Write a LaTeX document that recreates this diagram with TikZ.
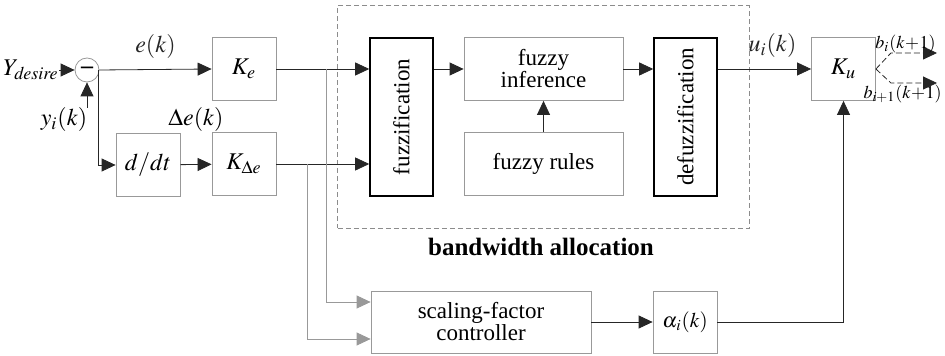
\documentclass[tikz,border=0pt]{standalone}
\usepackage{mathptmx}
\usepackage[no-math]{fontspec}
\setmainfont{Liberation Serif}
\usetikzlibrary{calc,positioning,fit,arrows.meta}
\tikzset{blk/.style={draw=gray!80,minimum width=32pt,minimum height=31.5pt,inner sep=1pt,text=black,font=\fontsize{12}{14}\selectfont},
wide/.style={blk,minimum width=79.5pt,align=center,font=\rmfamily\fontsize{11.5}{13}\selectfont},
fz/.style={draw=black,thick,minimum width=31.5pt,minimum height=79pt,inner sep=0pt,font=\rmfamily\fontsize{11.5}{13}\selectfont},
arr/.style={-{Triangle[length=7pt,width=6.5pt]},black!85},
ln/.style={gray!80}}

\begin{document}
\begin{tikzpicture}[x=0.5pt,y=-0.5pt,font=\rmfamily\fontsize{12}{14}\selectfont]
			\useasboundingbox (0,0) rectangle (945,356);
			\node[circle,draw=gray!80,minimum size=12pt,inner sep=0pt] (sum) at (87,70) {\bfseries --};
			\node[anchor=east,inner sep=0pt] (yd) at (59,70) {$Y_{\mathit{desire}}$};
			\node (yi) at (64,120) {$y_i(k)$};
			\coordinate (yin) at (87,108);
			\coordinate (b1) at (98,70);

			\node[blk] (ke) at (244,69) {$K_e$};
			\node[blk] (ddt) at (148,165) {$d/dt$};
			\node[blk] (kde) at (244,164) {$K_{\Delta e}$};
			\node (de) at (196,120) {$\Delta e(k)$};

			\node[fz] (fuzz) at (401.5,117) {\rotatebox{90}{fuzzification}};
			\node[wide] (inf) at (543.5,69) {fuzzy\\[-2pt]inference};
			\node[wide] (rules) at (543.5,164) {fuzzy rules};
			\node[fz] (defuzz) at (685.5,117) {\rotatebox{90}{defuzzification}};
			\node[draw=gray!90,dashed,dash pattern=on 2.5pt off 1.5pt,inner sep=15.7pt,fit=(fuzz) (defuzz) (inf) (rules)] (bw) {};
			\node[font=\rmfamily\fontsize{12.5}{15}\selectfont\bfseries] (bwl) at (541,247) {bandwidth allocation};

			\node[blk] (ku) at (843.5,69) {$K_u$};
			\node[wide,minimum width=110pt,minimum height=31pt] (sfc) at (481,322) {scaling-factor\\[-2pt]controller};
			\node[blk,minimum height=31pt,inner sep=0pt,font=\fontsize{10.5}{12}\selectfont] (alpha) at (685,322) {$\alpha_{\mkern1mu i}(k)$};

			\coordinate (b2) at (326,69);
			\coordinate (b3) at (307,164);
			\coordinate (o1) at (937,53);
			\coordinate (o2) at (937,83);

			\draw[arr] (yd) -- (sum);
			\draw[arr] (yin) -- (sum.south);
			\draw[arr] (sum.east) -- node[above=2pt]{$e(k)$} (ke.west);
			\draw[arr] (b1) |- (ddt.west);
			\draw[arr] (ddt) -- (kde);
			\draw[arr] (ke.east) -- (ke.east -| fuzz.west);
			\draw[arr] (kde.east) -- (kde.east -| fuzz.west);
			\draw[arr,ln] (b2) |- ([yshift=10pt]sfc.west);
			\draw[arr,ln] (b3) |- ([yshift=-8.5pt]sfc.west);
			\draw[arr] (fuzz.east |- inf.west) -- (inf.west);
			\draw[arr] (rules) -- (inf);
			\draw[arr] (inf.east) -- (inf.east -| defuzz.west);
			\draw[arr] (defuzz.east |- ku.west) -- node[above=2pt,xshift=4pt]{$u_i(k)$} (ku.west);
			\draw[arr] (sfc) -- (alpha);
			\draw[arr] (alpha.east) -| (ku.south);
			\draw[arr,dash pattern=on 3pt off 1.5pt] (ku.east) -- ++(15,-16) -- (o1);
			\draw[arr,dash pattern=on 3pt off 1.5pt] (ku.east) -- ++(15,14) -- (o2);
			\node[anchor=east,inner sep=0pt,font=\fontsize{9}{11}\selectfont] (bi) at (936,44) {$b_i(k\!+\!1)$};
			\node[anchor=east,inner sep=0pt,font=\fontsize{9}{11}\selectfont] (bi1) at (942,94) {$b_{i+1}(k\!+\!1)$};
		\end{tikzpicture}
\end{document}
